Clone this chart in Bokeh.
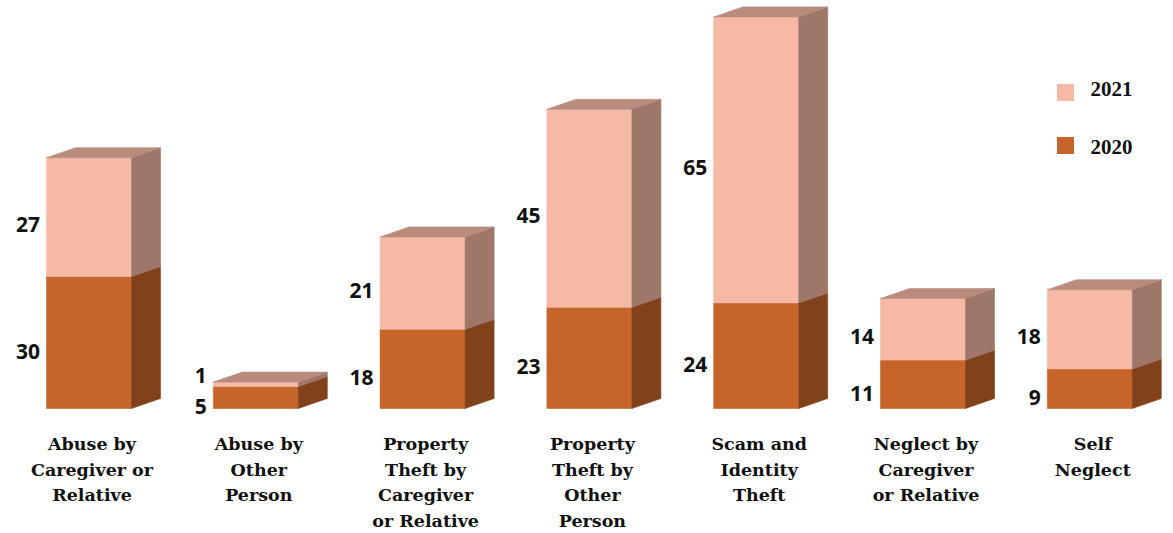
from bokeh.plotting import figure
from bokeh.models import Range1d, ColumnDataSource
from bokeh.core.properties import value
from bokeh.embed import file_html
from bokeh.resources import INLINE

# ---------------- data ----------------
categories = [
    "Abuse by\nCaregiver or\nRelative",
    "Abuse by\nOther\nPerson",
    "Property\nTheft by\nCaregiver\nor Relative",
    "Property\nTheft by\nOther\nPerson",
    "Scam and\nIdentity\nTheft",
    "Neglect by\nCaregiver\nor Relative",
    "Self\nNeglect",
]
series_names = ["2020", "2021"]
values_2020 = [30, 5, 18, 23, 24, 11, 9]
values_2021 = [27, 1, 21, 45, 65, 14, 18]
series_values = [values_2020, values_2021]

# ---------------- styling ----------------
front_colors = ["#C5652A", "#F5B9A5"]
side_colors = ["#81411B", "#9E7769"]
top_colors = ["#A0582E", "#B88B7D"]

W, H = 1173, 533
PX_X = 166.8          # pixels per category
PX_Y = 4.4            # pixels per value unit
BASE_IMG_Y = 408      # baseline position in page pixels
CAT0_IMG_X = 88.5     # first category center in page pixels
MARGIN = 0

def gx(px):   # page pixel x -> data x
    return (px - CAT0_IMG_X) / PX_X

def gy(py):   # page pixel y -> data y
    return (BASE_IMG_Y - py) / PX_Y

x_start = gx(MARGIN)
x_end = gx(MARGIN + W)
y_end = gy(MARGIN)
y_start = gy(MARGIN + H)

p = figure(width=W, height=H, output_backend="svg", toolbar_location=None,
           x_range=Range1d(x_start, x_end), y_range=Range1d(y_start, y_end),
           min_border=0)
p.axis.visible = False
p.xgrid.visible = False
p.ygrid.visible = False
p.outline_line_color = None
p.background_fill_color = "white"
p.border_fill_color = "white"

hw = 42.5 / PX_X
ddx = 29 / PX_X
ddy = 10 / PX_Y

xs, ys, fills = [], [], []
lab_x, lab_y, lab_t = [], [], []
n = len(categories)
for i in range(n):
    cx = i
    bottom = 0
    label_pos = []
    for s in range(len(series_names)):
        v = series_values[s][i]
        top = bottom + v
        # front
        xs.append([cx - hw, cx + hw, cx + hw, cx - hw])
        ys.append([bottom, bottom, top, top])
        fills.append(front_colors[s])
        # side
        xs.append([cx + hw, cx + hw + ddx, cx + hw + ddx, cx + hw])
        ys.append([bottom, bottom + ddy, top + ddy, top])
        fills.append(side_colors[s])
        if s == len(series_names) - 1:
            xs.append([cx - hw, cx + hw, cx + hw + ddx, cx - hw + ddx])
            ys.append([top, top, top + ddy, top + ddy])
            fills.append(top_colors[s])
        # label centre in page pixels
        mid_px = BASE_IMG_Y - (bottom + top) / 2 * PX_Y
        mid_px += 9 if s == 0 else 7.5
        label_pos.append(mid_px)
        bottom = top
    # avoid overlapping labels
    for s in range(1, len(label_pos)):
        if label_pos[s - 1] - label_pos[s] < 31:
            label_pos[s] = label_pos[s - 1] - 31
    for s in range(len(series_names)):
        lab_x.append(cx - hw - 6.5 / PX_X)
        lab_y.append(gy(label_pos[s]))
        lab_t.append(str(series_values[s][i]))

src = ColumnDataSource(dict(xs=xs, ys=ys, fill=fills))
p.patches("xs", "ys", source=src, fill_color="fill", line_color="fill",
          line_width=0.6)

p.text(x=lab_x, y=lab_y, text=lab_t, text_font=value("Open Sans"),
       text_font_style="bold", text_font_size="21px", text_color="#111111",
       text_align="right", text_baseline="middle")

# category labels
cx_l, cy_l, ct_l = [], [], []
for i, c in enumerate(categories):
    for j, line in enumerate(c.split("\n")):
        cx_l.append(i + 3 / PX_X)
        cy_l.append(gy(443.5 + j * 25.5))
        ct_l.append(line)
p.text(x=cx_l, y=cy_l, text=ct_l, text_font=value("DejaVu Serif"),
       text_font_style="bold", text_font_size="17.5px", text_color="#111111",
       text_align="center", text_baseline="alphabetic")

# legend (2021 on top, 2020 below)
leg_sq_x, leg_sq_y, leg_col, leg_tx, leg_ty, leg_txt = [], [], [], [], [], []
order = list(range(len(series_names)))[::-1]
for k, s in enumerate(order):
    leg_sq_x.append(gx(1065))
    leg_sq_y.append(gy(92 + k * 53))
    leg_col.append(front_colors[s])
    leg_tx.append(gx(1090))
    leg_ty.append(gy(88 + k * 58))
    leg_txt.append(series_names[s])
p.rect(x=leg_sq_x, y=leg_sq_y, width=17, height=17, width_units="screen",
       height_units="screen", fill_color=leg_col, line_color=None)
p.text(x=leg_tx, y=leg_ty, text=leg_txt, text_font=value("Liberation Serif"),
       text_font_style="bold", text_font_size="21px", text_color="#111111",
       text_align="left", text_baseline="alphabetic")

open("out.html", "w").write(file_html(p, INLINE))
